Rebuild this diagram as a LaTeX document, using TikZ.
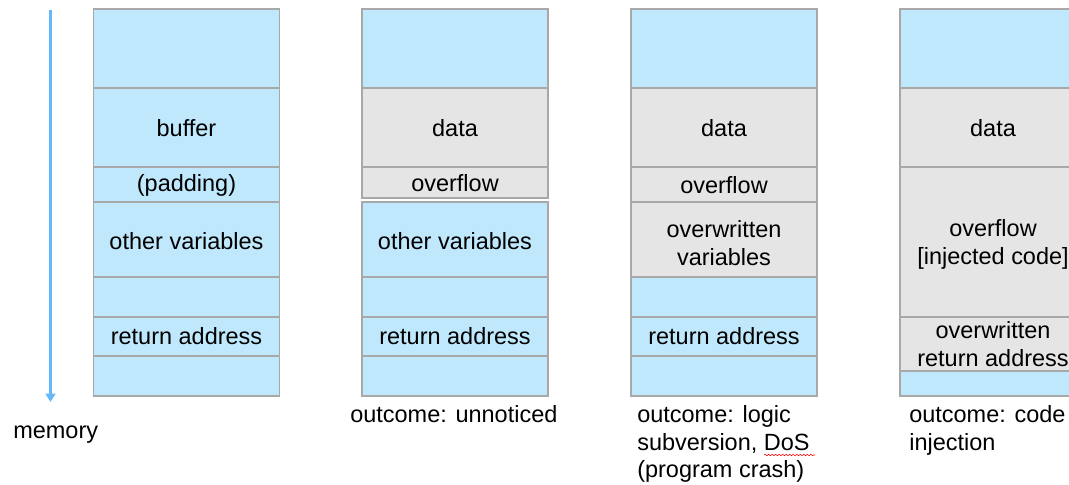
\documentclass[tikz,border=0pt]{standalone}
\usepackage{fontspec}
\setmainfont{Liberation Sans}
\usetikzlibrary{arrows.meta,decorations.pathmorphing}

\definecolor{stackblue}{RGB}{191,232,252}
\definecolor{stackgray}{RGB}{229,229,229}
\definecolor{cellline}{RGB}{168,168,168}
\definecolor{memblue}{RGB}{100,183,250}

\begin{document}
\begin{tikzpicture}[x=0.025cm,y=-0.025cm,
    blue cell/.style={fill=stackblue,draw=cellline,line width=1.4pt},
    gray cell/.style={fill=stackgray,draw=cellline,line width=1.4pt},
    every node/.style={font=\fontsize{16.7}{19.8}\selectfont,inner sep=0pt,align=center},
    outcome/.style={anchor=north west,align=left}]
    \useasboundingbox (0,0) rectangle (1069,485);
    \clip (0,0) rectangle (1069,485);

    % direction of memory
    \coordinate (memtop) at (50.5,10);
    \coordinate (membot) at (50.5,402);
    \draw[memblue,line width=2.1pt,-{Triangle[width=7pt,length=6pt]}] (memtop) -- (membot);
    \node[anchor=base west] (memory) at (13,438) {memory};

    % top row is the same everywhere
    \foreach \x in {93.5,362,631,900} {
        \draw[blue cell] (\x,9) rectangle ++(186,79);
    }
    % lower rows of the first three stacks
    \foreach \x/\n in {93.5/a,362/b,631/c} {
        \draw[blue cell] (\x,277) rectangle ++(186,40);
        \draw[blue cell] (\x,317) rectangle ++(186,39);
        \draw[blue cell] (\x,356) rectangle ++(186,40);
        \node (ret\n) at (\x+93,336.5) {return address};
    }

    % normal stack
    \draw[blue cell] (93.5,88) rectangle ++(186,79);
    \draw[blue cell] (93.5,167) rectangle ++(186,35);
    \draw[blue cell] (93.5,202) rectangle ++(186,75);
    \node (bufa) at (186.5,128) {buffer};
    \node (pada) at (186.5,185) {(padding)};
    \node (vara) at (186.5,241.5) {other variables};

    % small overflow
    \draw[gray cell] (362,88) rectangle ++(186,79);
    \draw[gray cell] (362,167) rectangle ++(186,31);
    \draw[blue cell] (362,202) rectangle ++(186,75);
    \node (datab) at (455,128) {data};
    \node (ovfb) at (455,183) {overflow};
    \node (varb) at (455,241.5) {other variables};
    \node[outcome] (outb) at (350,405) {outcome: unnoticed};

    % overflow into variables
    \draw[gray cell] (631,88) rectangle ++(186,79);
    \draw[gray cell] (631,167) rectangle ++(186,35);
    \draw[gray cell] (631,202) rectangle ++(186,75);
    \node (datac) at (724,128) {data};
    \node (ovfc) at (724,185) {overflow};
    \node (varc) at (724,243) {overwritten\\variables};
    \node[outcome] (outc) at (637,405) {outcome: logic\\subversion, DoS\\(program crash)};
    \draw[red,line width=0.4pt,decorate,decoration={snake,amplitude=0.5pt,segment length=2.5pt}]
        (764,455) -- (815,455);

    % overflow up to return address
    \draw[gray cell] (900,88) rectangle ++(186,79);
    \draw[gray cell] (900,167) rectangle ++(186,150);
    \draw[gray cell] (900,317) rectangle ++(186,54);
    \draw[blue cell] (900,371) rectangle ++(186,25);
    \node (datad) at (993,128) {data};
    \node (ovfd) at (993,244.5) {overflow\\{[injected code]}};
    \node (retd) at (993,344) {overwritten\\return address};
    \node[outcome] (outd) at (909,405) {outcome: code\\injection};
\end{tikzpicture}
\end{document}
